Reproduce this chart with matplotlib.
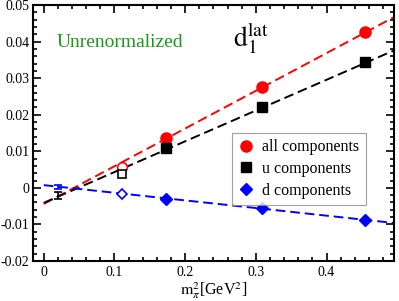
import numpy as np
import matplotlib.pyplot as plt

plt.rcParams['font.family'] = ['Liberation Serif', 'DejaVu Serif']
plt.rcParams['mathtext.fontset'] = 'stix'

# data
mpi2 = [0.173, 0.309, 0.454]
all_comp = [0.0137, 0.0276, 0.0427]
u_comp = [0.0108, 0.0221, 0.0344]
d_comp = [-0.0031, -0.0056, -0.0089]

# open symbols at the lighter pion mass
mpi2_open = 0.110
all_open = 0.0057
u_open = 0.0039
d_open = -0.0016

# extrapolated values near the chiral limit
mpi2_ext = 0.020
u_ext, u_ext_err = -0.0020, 0.0010
d_ext, d_ext_err = 0.0003, 0.0005

# linear fits: (intercept, slope)
fit_all = (-0.0044, 0.1032)
fit_u = (-0.0041, 0.0842)
fit_d = (0.00075, -0.0209)

fig = plt.figure(figsize=(3.99, 3.01), dpi=100)
ax = fig.add_axes([0.083, 0.133, 0.904, 0.850])

xf = np.array([0.0, 0.495])
dash = (0, (5, 2.5))
ax.plot(xf, fit_all[0] + fit_all[1] * xf, color='red', ls=dash, lw=1.4, zorder=2)
ax.plot(xf, fit_u[0] + fit_u[1] * xf, color='black', ls=dash, lw=1.4, zorder=2)
ax.plot(xf, fit_d[0] + fit_d[1] * xf, color='blue', ls=dash, lw=1.4, zorder=2)

ax.plot(mpi2, all_comp, 'o', color='red', ms=8, ls='none', label='all components', zorder=3)
ax.plot(mpi2, u_comp, 's', color='black', ms=6.5, ls='none', label='u components', zorder=3)
ax.plot(mpi2, d_comp, 'D', color='blue', ms=6, ls='none', label='d components', zorder=3)

ax.plot(mpi2_open, all_open, 'o', mfc='white', mec='red', mew=1.2, ms=7, zorder=3)
ax.plot(mpi2_open, u_open, 's', mfc='white', mec='black', mew=1.2, ms=6, zorder=3)
ax.plot(mpi2_open, d_open, 'D', mfc='white', mec='blue', mew=1.2, ms=5.5, zorder=3)

ax.errorbar(mpi2_ext, u_ext, yerr=u_ext_err, fmt='none', ecolor='black',
            elinewidth=1.2, capsize=3, capthick=1.2, zorder=4)
ax.errorbar(mpi2_ext, d_ext, yerr=d_ext_err, fmt='none', ecolor='blue',
            elinewidth=1.2, capsize=3, capthick=1.2, zorder=4)

ax.set_xlim(-0.015, 0.495)
ax.set_ylim(-0.02, 0.05)
ax.set_xticks([0, 0.1, 0.2, 0.3, 0.4])
ax.set_xticklabels(['0', '0.1', '0.2', '0.3', '0.4'])
ax.set_yticks(np.arange(-0.02, 0.051, 0.01))
ax.set_yticklabels(['-0.02', '-0.01', '0', '0.01', '0.02', '0.03', '0.04', '0.05'])
ax.set_xticks(np.arange(-0.0, 0.49, 0.02), minor=True)
ax.set_yticks(np.arange(-0.02, 0.05, 0.002), minor=True)
ax.tick_params(which='both', direction='in', top=True, right=True, labelsize=10, width=1.2)
ax.tick_params(axis='y', which='major', pad=2.5)
ax.tick_params(which='major', length=6)
ax.tick_params(which='minor', length=3)
for s in ax.spines.values():
    s.set_linewidth(1.5)

ax.set_xlabel(r'$\mathrm{m}_{\pi}^{2}$[GeV$^{2}$]', fontsize=11.5, labelpad=1)

ax.text(0.018, 0.0386, 'Unrenormalized', color='#1a9a1a', fontsize=14)
ax.text(0.268, 0.0385, r'$\mathrm{d}_{1}^{\mathrm{lat}}$', fontsize=20)

leg = ax.legend(loc='upper left', bbox_to_anchor=(0.551, 0.50), fontsize=11.5,
                frameon=True, fancybox=False, handletextpad=0.5, borderpad=0.4,
                labelspacing=0.35, handlelength=1.0, borderaxespad=0)
leg.get_frame().set_edgecolor('#888888')
leg.get_frame().set_linewidth(0.8)

plt.savefig('out.png', dpi=100)
